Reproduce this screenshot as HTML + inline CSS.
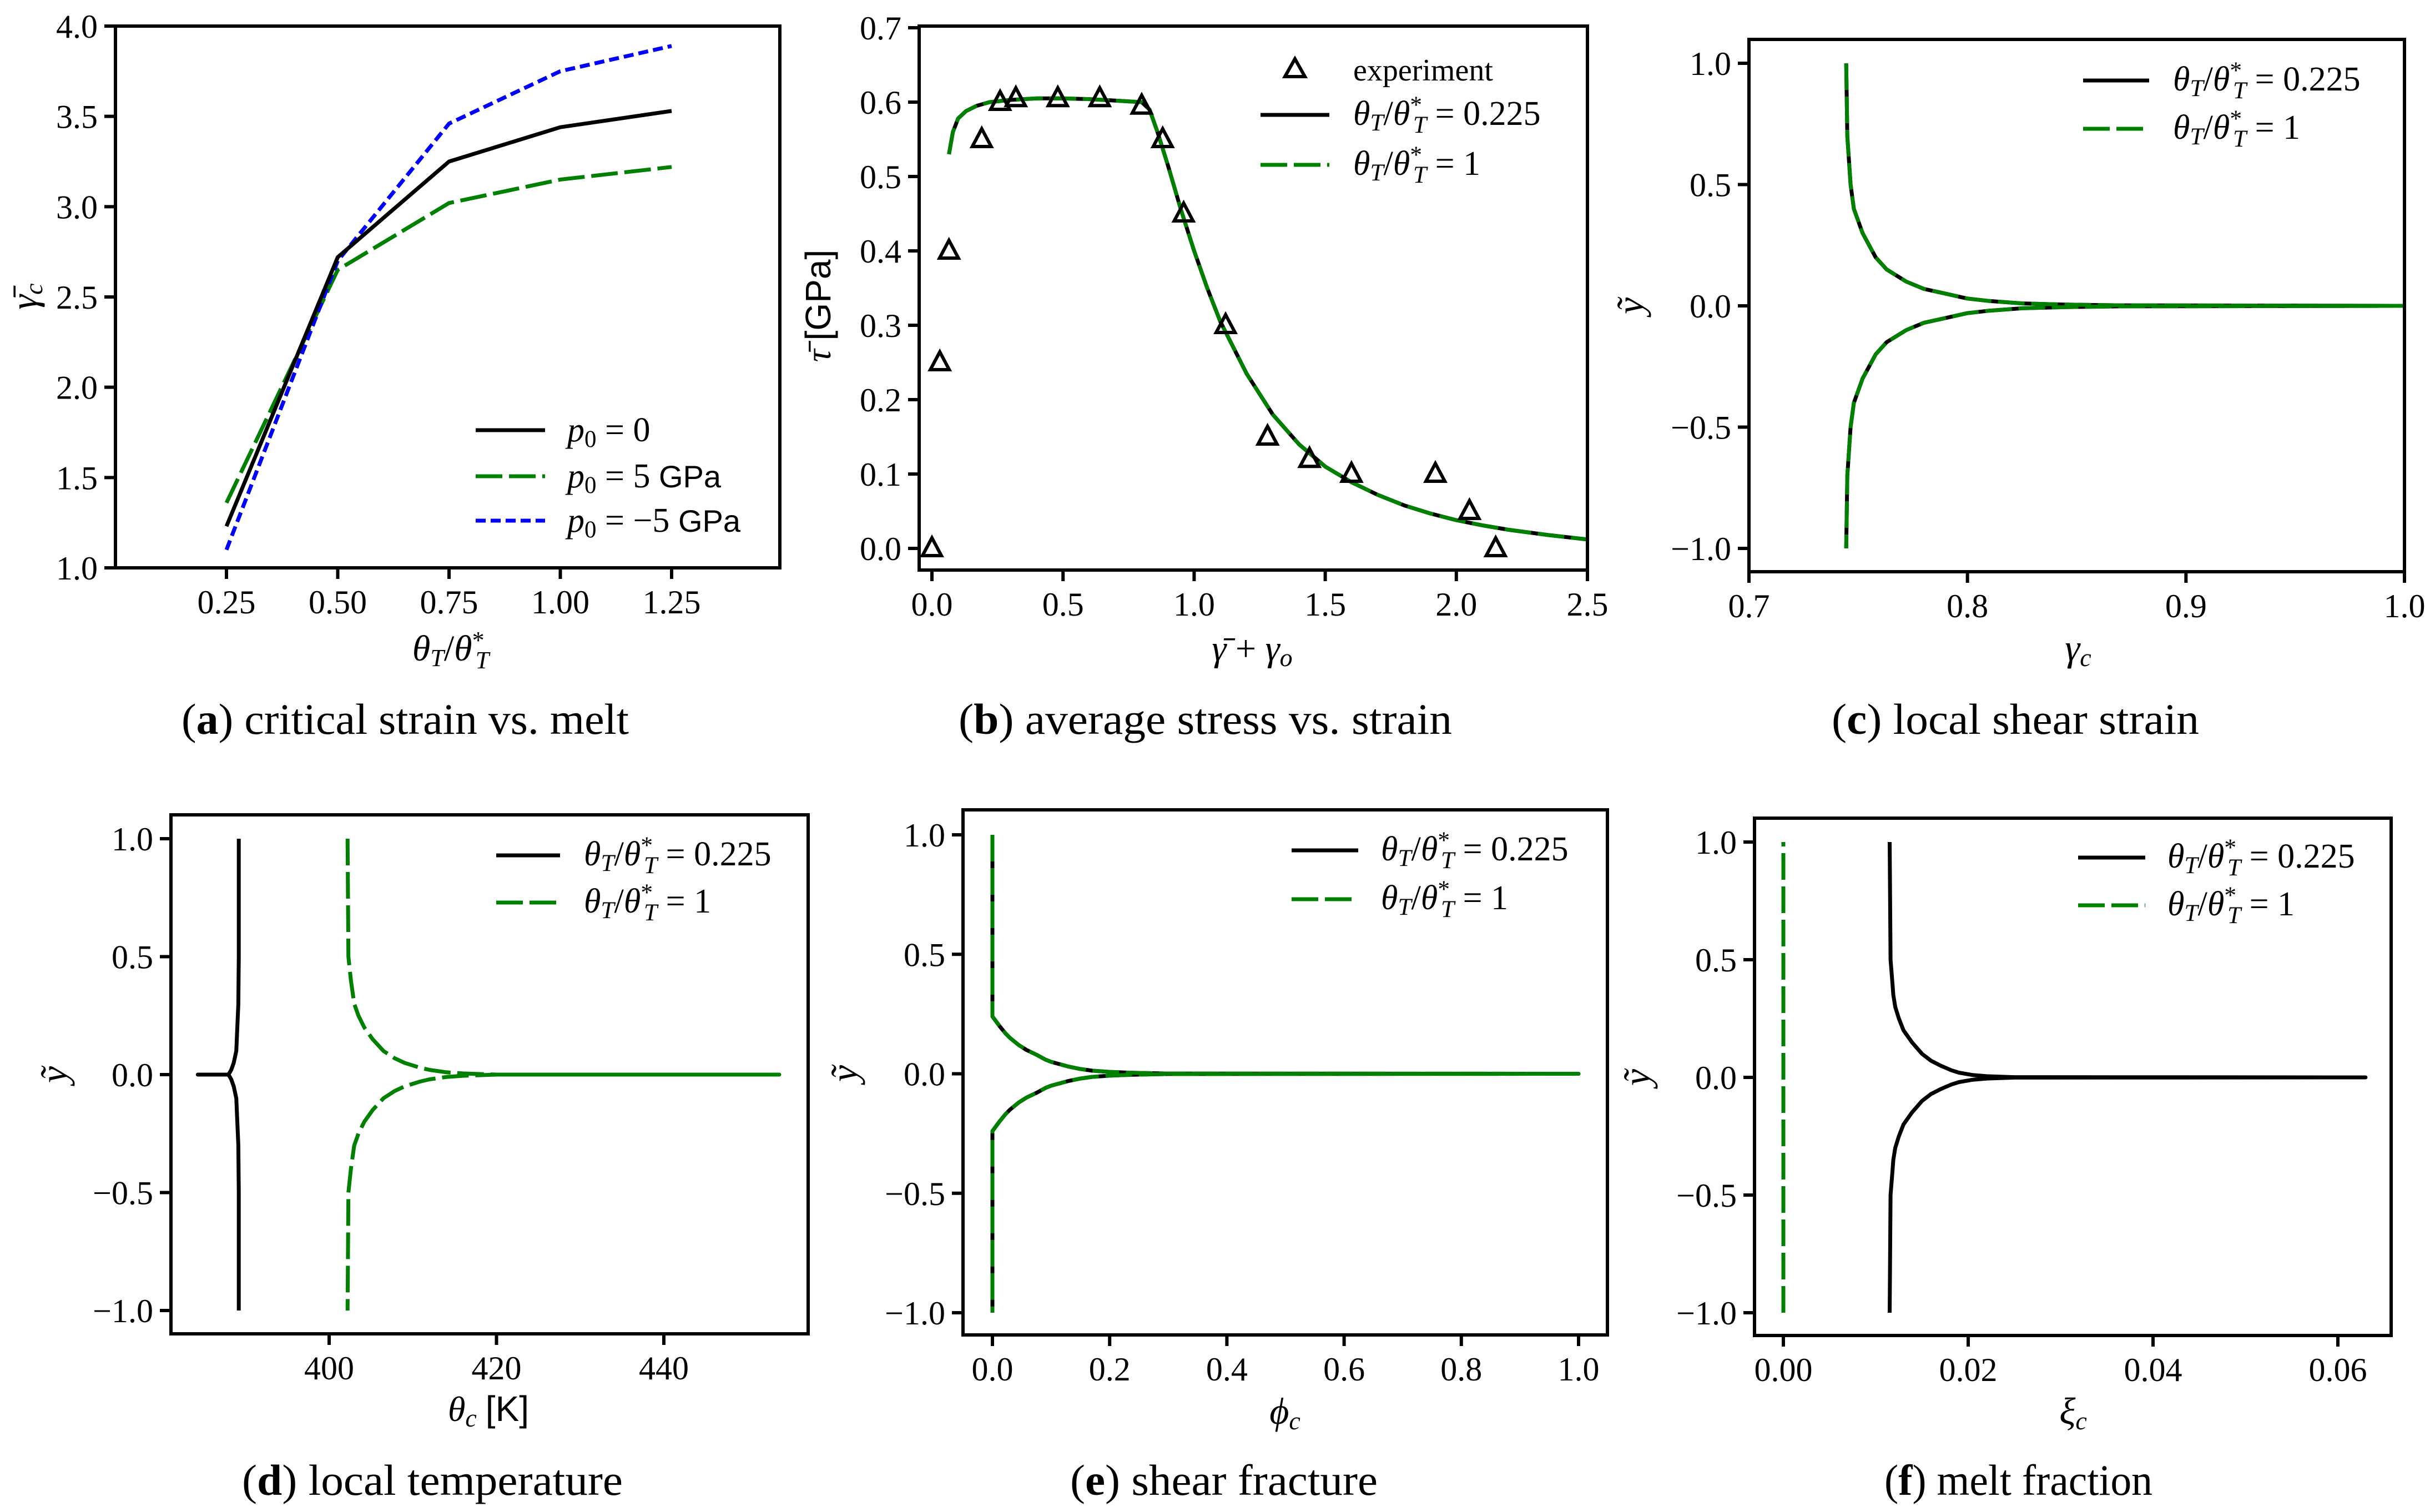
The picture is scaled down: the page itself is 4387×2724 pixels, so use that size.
<!DOCTYPE html>
<html><head><meta charset="utf-8"><style>
html,body{margin:0;padding:0;background:#fff;}
svg{display:block;}
text{font-family:"Liberation Serif",serif;fill:#000;}
.sans{font-family:"Liberation Sans",sans-serif;}
</style></head><body>
<svg id="fig" width="4387" height="2724" viewBox="0 0 4387 2724" xmlns="http://www.w3.org/2000/svg" font-family="Liberation Serif, serif"></svg>
<script>
// ---------- data: panel a ----------
const aX = [0.25, 0.5, 0.75, 1.0, 1.25];
const aP0 = [1.23, 2.72, 3.25, 3.44, 3.53];
const aP5 = [1.36, 2.65, 3.02, 3.15, 3.22];
const aM5 = [1.10, 2.70, 3.46, 3.75, 3.89];
const aXTicks = [0.25, 0.5, 0.75, 1.0, 1.25];
const aXTickLabels = ["0.25","0.50","0.75","1.00","1.25"];
const aYTicks = [1.0,1.5,2.0,2.5,3.0,3.5,4.0];
// ---------- data: panel b ----------
const bExpX = [0, 0.03, 0.065, 0.19, 0.26, 0.32, 0.48, 0.64, 0.80, 0.88, 0.96, 1.12, 1.28, 1.44, 1.60, 1.92, 2.05, 2.15];
const bExpY = [0, 0.25, 0.40, 0.55, 0.60, 0.605, 0.605, 0.605, 0.595, 0.55, 0.45, 0.30, 0.15, 0.12, 0.10, 0.10, 0.05, 0.0];
const bCurveX = [0.065, 0.08, 0.1, 0.13, 0.17, 0.22, 0.3, 0.4, 0.5, 0.6, 0.7, 0.8, 0.83, 0.86, 0.9, 0.95, 1.0, 1.05, 1.1, 1.2, 1.3, 1.4, 1.5, 1.6, 1.7, 1.8, 1.9, 2.0, 2.1, 2.2, 2.35, 2.5];
const bCurveY = [0.53, 0.56, 0.578, 0.588, 0.595, 0.6, 0.603, 0.605, 0.605, 0.604, 0.602, 0.6, 0.59, 0.56, 0.515, 0.455, 0.40, 0.35, 0.305, 0.235, 0.18, 0.14, 0.11, 0.089, 0.072, 0.058, 0.047, 0.038, 0.031, 0.025, 0.018, 0.012];
const bXTicks = [0,0.5,1.0,1.5,2.0,2.5];
const bYTicks = [0,0.1,0.2,0.3,0.4,0.5,0.6,0.7];
// ---------- data: panel c (|y| vs gamma_c) ----------
const cYAbs = [1.0, 0.7, 0.5, 0.4, 0.3, 0.25, 0.2, 0.15, 0.1, 0.07, 0.05, 0.03, 0.02, 0.01, 0.005, 0.002, 0.0];
const cX    = [0.7445, 0.745, 0.7465, 0.748, 0.752, 0.755, 0.758, 0.763, 0.772, 0.78, 0.79, 0.80, 0.81, 0.825, 0.845, 0.87, 1.0];
const cXTicks = [0.7,0.8,0.9,1.0];
const yTicksSym = [-1.0,-0.5,0.0,0.5,1.0];
// ---------- data: panel d ----------
const dBlackYAbs = [1.0, 0.5, 0.3, 0.1, 0.05, 0.02, 0.005, 0.0, 0.0];
const dBlackX    = [389.2, 389.2, 389.15, 388.9, 388.6, 388.3, 388.05, 387.9, 384.3];
const dGreenYAbs = [1.0, 0.5, 0.4, 0.3, 0.25, 0.2, 0.15, 0.1, 0.07, 0.05, 0.03, 0.02, 0.01, 0.005, 0.0, 0.0];
const dGreenX    = [402.2, 402.3, 402.6, 403.0, 403.5, 404.2, 405.2, 406.5, 407.8, 409.0, 410.8, 412.0, 414.0, 416.0, 420.0, 453.8];
const dXTicks = [400,420,440];
// ---------- data: panel e ----------
const eYAbs = [1.0, 0.24, 0.22, 0.2, 0.17, 0.15, 0.12, 0.1, 0.08, 0.06, 0.05, 0.04, 0.03, 0.02, 0.013, 0.008, 0.004, 0.001, 0.0];
const eX    = [0.0, 0.0, 0.006, 0.012, 0.022, 0.03, 0.045, 0.058, 0.075, 0.09, 0.1, 0.115, 0.13, 0.15, 0.17, 0.2, 0.24, 0.3, 1.0];
const eXTicks = [0,0.2,0.4,0.6,0.8,1.0];
// ---------- data: panel f ----------
const fGreenX = [0.0, 0.0];
const fGreenY = [-1.0, 1.0];
const fYAbs = [1.0, 0.5, 0.45, 0.4, 0.35, 0.3, 0.25, 0.2, 0.15, 0.1, 0.07, 0.05, 0.03, 0.02, 0.01, 0.005, 0.001, 0.0];
const fX    = [0.0115, 0.0116, 0.0117, 0.0118, 0.0119, 0.0121, 0.0125, 0.013, 0.0139, 0.015, 0.016, 0.017, 0.0182, 0.019, 0.0205, 0.022, 0.025, 0.063];
const fXTicks = [0,0.02,0.04,0.06];
const fXTickLabels = ["0.00","0.02","0.04","0.06"];

const NS="http://www.w3.org/2000/svg";
const svg=document.getElementById('fig');
const SERIF='Liberation Serif, serif';
function el(tag,attrs,parent){const e=document.createElementNS(NS,tag);for(const k in attrs)e.setAttribute(k,attrs[k]);(parent||svg).appendChild(e);return e;}
function lin(d0,p0,d1,p1){return v=>p0+(v-d0)*(p1-p0)/(d1-d0);}
function fmt(v,dec){let s=Math.abs(v).toFixed(dec);return (v<0?"\u2212":"")+s;}

function makePanel(name,box,sx,sy){
  const g=el('g',{});
  
  
  const clip=el('clipPath',{id:'clip-'+name},g);
  el('rect',{x:box.l,y:box.t,width:box.r-box.l,height:box.b-box.t},clip);
  const plot=el('g',{'clip-path':'url(#clip-'+name+')'},g);
  
  
  return {g,plot,box,sx,sy};
}
function frame(P){
  const b=P.box;
  const r=el('rect',{x:b.l,y:b.t,width:b.r-b.l,height:b.b-b.t,fill:'none',stroke:'#000','stroke-width':6},P.g);
  
  
}
function xTicks(P,ticks,labels,dec){
  ticks.forEach((v,i)=>{
    const x=P.sx(v);
    const t=el('line',{x1:x,x2:x,y1:P.box.b,y2:P.box.b+20,stroke:'#000','stroke-width':6},P.g);
    
    
    const tx=el('text',{x:x,y:P.box.b+82,'font-size':60,'text-anchor':'middle','font-family':SERIF},P.g);
    tx.textContent=labels?labels[i]:fmt(v,dec);
    
    
  });
}
function yTicks(P,ticks,dec){
  ticks.forEach(v=>{
    const y=P.sy(v);
    const t=el('line',{x1:P.box.l-20,x2:P.box.l,y1:y,y2:y,stroke:'#000','stroke-width':6},P.g);
    
    
    const tx=el('text',{x:P.box.l-32,y:y+21,'font-size':60,'text-anchor':'end','font-family':SERIF},P.g);
    tx.textContent=fmt(v,dec);
    
    
  });
}
function poly(P,xs,ys,style,name){
  const pts=xs.map((x,i)=>P.sx(x).toFixed(1)+','+P.sy(ys[i]).toFixed(1)).join(' ');
  const p=el('polyline',Object.assign({points:pts,fill:'none','stroke-linejoin':'round'},style),P.plot);
  
  
  return p;
}
function sym(P,yabs,xs,style,name){
  const X=[],Y=[];
  for(let i=0;i<yabs.length;i++){X.push(xs[i]);Y.push(yabs[i]);}
  for(let i=yabs.length-1;i>=0;i--){X.push(xs[i]);Y.push(-yabs[i]);}
  return poly(P,X,Y,style,name);
}
const BLACK={stroke:'#000','stroke-width':7};
const GREEN={stroke:'#008000','stroke-width':7,'stroke-dasharray':'48 12'};
const BLUE={stroke:'#0000ff','stroke-width':7,'stroke-dasharray':'18 9'};

function theta(x,y,val,fs){
  const t=el('text',{x:x,y:y,'font-size':fs,'font-family':SERIF});
  t.innerHTML='<tspan font-style="italic">θ</tspan><tspan font-style="italic" font-size="'+(fs*0.7)+'" dy="10">T</tspan><tspan dy="-10">/</tspan><tspan font-style="italic">θ</tspan><tspan font-size="'+(fs*0.7)+'" dy="-22">*</tspan><tspan font-style="italic" font-size="'+(fs*0.7)+'" dx="-16" dy="36">T</tspan><tspan dy="-14"> = '+val+'</tspan>';
  return t;
}
function legendLine(x1,x2,y,style,name){
  const l=el('line',Object.assign({x1:x1,x2:x2,y1:y,y2:y},style));
  
  
}
function legendTheta(lx1,lx2,tx,y1,y2,name){
  const g=el('g',{});
  
  
  legendLine(lx1,lx2,y1,BLACK,'legend-line-0225');
  legendLine(lx1,lx2,y2,{stroke:'#008000','stroke-width':7,'stroke-dasharray':'48 12'},'legend-line-1');
  const a=theta(tx,y1+18,'0.225',62);
  const b=theta(tx,y2+18,'1',62);
}
function label(x,y,html,fs,name,rot,extra){
  const t=el('text',Object.assign({x:x,y:y,'font-size':fs,'text-anchor':'middle','font-family':SERIF},extra||{}));
  if(rot)t.setAttribute('transform','rotate(-90 '+x+' '+y+')');
  t.innerHTML=html;
  
  
  return t;
}
function caption(x1,x2,y,letter,text,name){
  const t=el('text',{x:x1,y:y,'font-size':78,textLength:x2-x1,lengthAdjust:'spacingAndGlyphs','font-family':SERIF});
  t.innerHTML='(<tspan font-weight="bold">'+letter+'</tspan>) '+text;
  
  
}

// ===== Panel a =====
{
const P=makePanel('panel-a',{l:208,t:47,r:1405,b:1023},lin(0.25,408,1.25,1210),lin(1,1023,4,47));
poly(P,aX,aP5,GREEN,'series-p0-5gpa');
poly(P,aX,aM5,BLUE,'series-p0-minus5gpa');
poly(P,aX,aP0,BLACK,'series-p0-0');
frame(P);
xTicks(P,aXTicks,aXTickLabels);
yTicks(P,aYTicks,1);
label(812,1190,'<tspan font-style="italic">θ</tspan><tspan font-style="italic" font-size="44" dy="10">T</tspan><tspan dy="-10">/</tspan><tspan font-style="italic">θ</tspan><tspan font-size="44" dy="-22">*</tspan><tspan font-style="italic" font-size="44" dx="-16" dy="36">T</tspan>',66,'x-axis-title-a');
label(66,534,'<tspan font-style="italic">γ̄</tspan><tspan font-style="italic" font-size="46" dy="10">c</tspan>',68,'y-axis-title-a',true);
legendLine(857,982,775,BLACK,'legend-line-p0-0');
legendLine(857,982,858,{stroke:'#008000','stroke-width':7,'stroke-dasharray':'48 12'},'legend-line-p0-5');
legendLine(857,982,938,{stroke:'#0000ff','stroke-width':7,'stroke-dasharray':'18 9'},'legend-line-p0-m5');
let t;
t=el('text',{x:1022,y:795,'font-size':62,'font-family':SERIF});t.innerHTML='<tspan font-style="italic">p</tspan><tspan font-size="43" dy="10">0</tspan><tspan dy="-10"> = 0</tspan>';
t=el('text',{x:1022,y:878,'font-size':62,'font-family':SERIF});t.innerHTML='<tspan font-style="italic">p</tspan><tspan font-size="43" dy="10">0</tspan><tspan dy="-10"> = 5 </tspan><tspan class="sans" font-family="Liberation Sans, sans-serif" font-size="56">GPa</tspan>';
t=el('text',{x:1022,y:958,'font-size':62,'font-family':SERIF});t.innerHTML='<tspan font-style="italic">p</tspan><tspan font-size="43" dy="10">0</tspan><tspan dy="-10"> = −5 </tspan><tspan class="sans" font-family="Liberation Sans, sans-serif" font-size="56">GPa</tspan>';
caption(327,1133,1322,'a','critical strain vs. melt','caption-a');
}
// ===== Panel b =====
{
const P=makePanel('panel-b',{l:1656,t:47,r:2860,b:1027},lin(0,1679,2.5,2860),lin(0,988,0.7,50));
poly(P,bCurveX,bCurveY,BLACK,'series-theta-0225');
poly(P,bCurveX,bCurveY,GREEN,'series-theta-1');
bExpX.forEach((x,i)=>{
  const cx=P.sx(x),cy=P.sy(bExpY[i]);
  const m=el('polygon',{points:(cx)+','+(cy-19)+' '+(cx-17)+','+(cy+13)+' '+(cx+17)+','+(cy+13),fill:'none',stroke:'#000','stroke-width':6},P.g);
  
  
});
frame(P);
xTicks(P,bXTicks,null,1);
yTicks(P,bYTicks,1);
label(2256,1190,'<tspan font-style="italic">γ̄</tspan> + <tspan font-style="italic">γ</tspan><tspan font-style="italic" font-size="46" dy="10">o</tspan>',66,'x-axis-title-b');
label(1496,551,'<tspan font-style="italic">τ̄</tspan> <tspan font-family="Liberation Sans, sans-serif">[GPa]</tspan>',64,'y-axis-title-b',true);
const m=el('polygon',{points:'2333,106 2315,138 2351,138',fill:'none',stroke:'#000','stroke-width':6});

const t=el('text',{x:2438,y:145,'font-size':56,'font-family':'Liberation Sans, sans-serif'});t.textContent='experiment';

legendTheta(2271,2395,2438,207,297,'legend-b');
caption(1727,2616,1322,'b','average stress vs. strain','caption-b');
}
// ===== Panel c =====
{
const P=makePanel('panel-c',{l:3151,t:71,r:4332,b:1030},lin(0.7,3151,1.0,4332),lin(1,114,-1,988));
sym(P,cYAbs,cX,BLACK,'series-theta-0225');
sym(P,cYAbs,cX,GREEN,'series-theta-1');
frame(P);
xTicks(P,cXTicks,null,1);
yTicks(P,yTicksSym,1);
label(3744,1190,'<tspan font-style="italic">γ</tspan><tspan font-style="italic" font-size="46" dy="10">c</tspan>',68,'x-axis-title-c');
label(2960,551,'<tspan font-style="italic">ỹ</tspan>',68,'y-axis-title-c',true);
legendTheta(3753,3872,3915,145,232,'legend-c');
caption(3300,3962,1322,'c','local shear strain','caption-c');
}
// ===== Panel d =====
{
const P=makePanel('panel-d',{l:308,t:1468,r:1456,b:2403},lin(400,593,440,1196),lin(1,1511,-1,2361));
sym(P,dGreenYAbs,dGreenX,GREEN,'series-theta-1');
sym(P,dBlackYAbs,dBlackX,BLACK,'series-theta-0225');
frame(P);
xTicks(P,dXTicks,null,0);
yTicks(P,yTicksSym,1);
label(880,2560,'<tspan font-style="italic">θ</tspan><tspan font-style="italic" font-size="46" dy="10">c</tspan><tspan dy="-10"> </tspan><tspan font-family="Liberation Sans, sans-serif">[K]</tspan>',64,'x-axis-title-d');
label(120,1936,'<tspan font-style="italic">ỹ</tspan>',68,'y-axis-title-d',true);
legendTheta(894,1009,1052,1541,1626,'legend-d');
caption(436,1122,2693,'d','local temperature','caption-d');
}
// ===== Panel e =====
{
const P=makePanel('panel-e',{l:1735,t:1459,r:2896,b:2405},lin(0,1788,1,2844),lin(1,1504,-1,2365));
sym(P,eYAbs,eX,BLACK,'series-theta-0225');
sym(P,eYAbs,eX,GREEN,'series-theta-1');
frame(P);
xTicks(P,eXTicks,null,1);
yTicks(P,yTicksSym,1);
label(2315,2565,'<tspan font-style="italic">ϕ</tspan><tspan font-style="italic" font-size="46" dy="10">c</tspan>',68,'x-axis-title-e');
label(1544,1934,'<tspan font-style="italic">ỹ</tspan>',68,'y-axis-title-e',true);
legendTheta(2327,2447,2488,1532,1620,'legend-e');
caption(1928,2482,2693,'e','shear fracture','caption-e');
}
// ===== Panel f =====
{
const P=makePanel('panel-f',{l:3161,t:1474,r:4308,b:2406},lin(0,3213,0.06,4212),lin(1,1517,-1,2365));
poly(P,fGreenX,fGreenY,GREEN,'series-theta-1');
sym(P,fYAbs,fX,BLACK,'series-theta-0225');
frame(P);
xTicks(P,fXTicks,fXTickLabels);
yTicks(P,yTicksSym,1);
label(3735,2565,'<tspan font-style="italic">ξ</tspan><tspan font-style="italic" font-size="46" dy="10">c</tspan>',68,'x-axis-title-f');
label(2972,1941,'<tspan font-style="italic">ỹ</tspan>',68,'y-axis-title-f',true);
legendTheta(3744,3865,3905,1545,1631,'legend-f');
caption(3395,3878,2693,'f','melt fraction','caption-f');
}
</script>
</body></html>
